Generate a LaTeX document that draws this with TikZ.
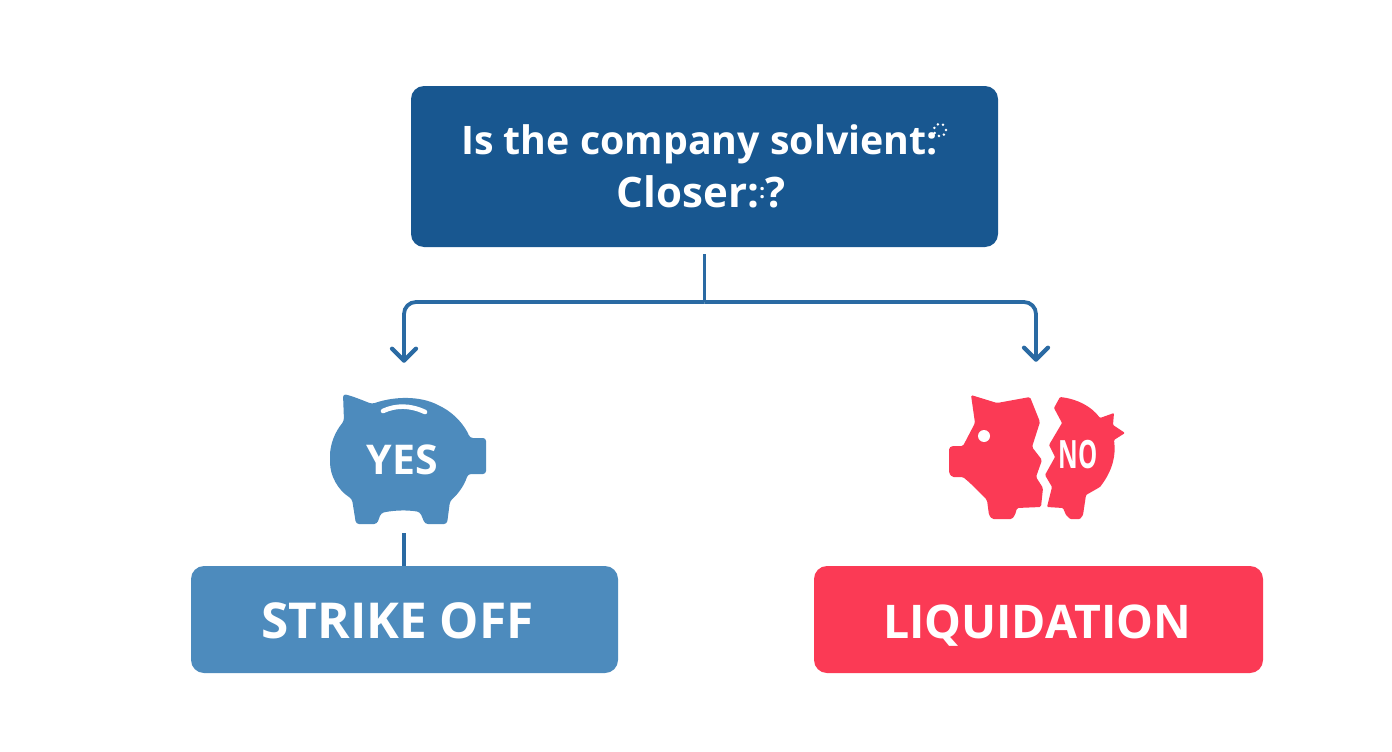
\documentclass[tikz,border=0pt]{standalone}
\usepackage{fontspec}
\setmainfont{Open Sans}
\newcommand{\boldfont}{\bfseries}
\usetikzlibrary{arrows.meta}
\definecolor{navyfill}{HTML}{185790}
\definecolor{midblue}{HTML}{4D8BBD}
\definecolor{linkblue}{HTML}{2A6AA3}
\definecolor{redfill}{HTML}{FB3A55}
\tikzset{
  x=1pt,y=-1pt,
  boxbase/.style={draw=none,rounded corners=13pt,inner sep=0pt,text=white,align=center},
  conn/.style={draw=linkblue,line width=3.8pt},
  chev/.style={-{Straight Barb[length=12pt,width=24pt,line width=4.2pt,round]}},
  holder/.style={inner sep=0pt,draw=none},
}
\begin{document}
\begin{tikzpicture}
\useasboundingbox (0,0) rectangle (1392,752);
\fill[white] (0,0) rectangle (1392,752);
% pig shapes
\fill[midblue,rounded corners=3pt] (343,394) .. controls (352,396) and (362,400) .. (372,404)
  .. controls (395,396) and (420,396) .. (440,406) .. controls (455,414) and (465,426) .. (470,438)
  -- (486,438) -- (486,474) -- (468,474) .. controls (464,486) and (458,494) .. (450,501)
  -- (447,524) -- (425,524) -- (420,512) .. controls (408,510) and (395,510) .. (381,513)
  -- (377,524) -- (356,524) -- (352,499) .. controls (338,490) and (330,476) .. (330,459)
  .. controls (330,444) and (335,432) .. (344,421) -- cycle;
\draw[white,line width=4.6pt,line cap=round] (383,411) .. controls (396,405) and (410,405) .. (425,412);
\fill[redfill,rounded corners=1.5pt] (971,395) -- (997,403) -- (1030,397) -- (1040,422) -- (1032,447) -- (1042,460)
  -- (1036,477) -- (1043,488) -- (1041,507) -- (1017,508) -- (1015,515) -- (1012,519) -- (992,519) -- (989,515)
  -- (987,500) -- (970,483) -- (963,477) -- (952,477) -- (949,473) -- (949,448) -- (952,446) -- (963,446) -- (975,423) -- cycle;
\fill[white] (984,436) circle (6);
\fill[redfill,rounded corners=1pt] (1060,397) .. controls (1077,399) and (1091,406) .. (1100,418) -- (1114,413) -- (1113,425)
  -- (1125,433) -- (1114,440) .. controls (1116,455) and (1113,470) .. (1100,487) -- (1086,495) -- (1083,515) -- (1080,519)
  -- (1070,519) -- (1066,515) -- (1063,508) -- (1047,507) -- (1052,487) -- (1045,475) -- (1055,457) -- (1049,445)
  -- (1062,423) -- (1054,408) -- cycle;
% nodes
\node[boxbase,fill=navyfill,minimum width=587pt,minimum height=161pt,font=\boldfont\fontsize{39.3}{53}\selectfont] (q) at (704.5,166.5)
  {Is the company solvient:\hspace{10pt}\mbox{}\\[0pt]{\fontsize{42}{53}\selectfont Closer:\raisebox{9pt}{\fontsize{20}{20}\selectfont:}?\hspace{7pt}\mbox{}}};
\node[boxbase,fill=midblue,minimum width=427pt,minimum height=107pt,text height=37pt,text depth=0pt,font=\boldfont\fontsize{49.5}{50}\selectfont] (strike) at (404.5,619.5) {\hspace{-14pt}STRIKE OFF};
\node[boxbase,fill=redfill,minimum width=449pt,minimum height=107pt,text height=37pt,text depth=0pt,font=\boldfont\fontsize{46.4}{50}\selectfont] (liq) at (1038.5,619.5) {\hspace{-3pt}LIQUIDATION};
\node[holder,minimum width=164pt,minimum height=128pt,text=white,font=\boldfont\fontsize{41}{40}\selectfont] (pigyes) at (404,460) {\hspace{-3pt}YES};
\node[holder,minimum width=174pt,minimum height=124pt] (pigno) at (1036,457) {};
\node[holder,text=white,font=\boldfont\fontsize{39}{42}\selectfont,xscale=0.62] (notext) at (1078,455) {NO};
\coordinate (junction) at (q.south |- 0,302);
% connectors
\draw[conn,shorten <=7pt] (q.south) -- (junction);
\draw[conn,chev,rounded corners=12pt,shorten >=33pt] (junction) -| (pigyes.north);
\draw[conn,chev,rounded corners=12pt,shorten >=33pt] (junction) -| (pigno.north);
\draw[conn,shorten <=9pt] (pigyes.south) -- (strike.north -| pigyes.south);
% speckle after the first line
\foreach \a in {0,50,100,150,200,250,300} \fill[white] (940,130) ++(\a:6) circle (1.4);
\end{tikzpicture}
\end{document}
